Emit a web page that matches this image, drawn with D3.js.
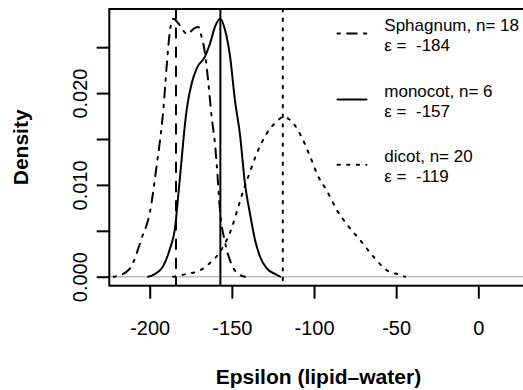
<!DOCTYPE html>
<html><head><meta charset="utf-8">
<script src="https://cdn.jsdelivr.net/npm/d3@7"></script>
<style>
html,body{margin:0;padding:0;background:#fff;}
svg{display:block;font-family:"Liberation Sans",Arial,Helvetica,sans-serif;}
</style></head>
<body>
<svg id="chart" width="523" height="390"></svg>
<script>
// ---- data ----
const seriesNames = ["Sphagnum", "monocot", "dicot"];
const seriesN = [18, 6, 20];
const seriesEps = [-184, -157, -119];
const seriesDash = ["dotdash", "solid", "dotted"];

const sphagnumX = [-222, -219.1, -212.0, -204.9, -199.8, -195.7, -193.7, -191.7, -189.7, -187.6, -185.6, -182.6, -179.5, -177.1, -174.5, -172.4, -170.4, -168.4, -166.3, -164.3, -162.3, -160.3, -159.2, -157.2, -154.2, -150.1, -145.0, -142.0];
const sphagnumY = [0, 0.0001, 0.0009, 0.0042, 0.0071, 0.0122, 0.0149, 0.0182, 0.0229, 0.0269, 0.0281, 0.0276, 0.0268, 0.0264, 0.0268, 0.0271, 0.0272, 0.0261, 0.0243, 0.0211, 0.0174, 0.0145, 0.0122, 0.0071, 0.0038, 0.0013, 0.0002, 0];

const monocotX = [-201, -197.8, -191.7, -187.6, -184.6, -182.6, -180.5, -179.5, -177.5, -174.4, -171.4, -166.3, -163.3, -160.3, -157.2, -154.2, -151.1, -148.1, -145.0, -142.0, -139.0, -135.9, -132.9, -128.8, -123.7, -120.6];
const monocotY = [0, 0.0002, 0.0012, 0.0031, 0.0053, 0.0089, 0.0129, 0.0149, 0.0182, 0.0211, 0.0227, 0.0240, 0.0254, 0.0272, 0.0281, 0.0269, 0.0240, 0.0192, 0.0154, 0.0101, 0.0069, 0.0040, 0.0022, 0.0009, 0.0003, 0];

const dicotX = [-185.8, -177.5, -169.4, -163.3, -157.2, -150.1, -146.1, -143.0, -140.0, -134.9, -128.8, -122.7, -118.7, -112.6, -107.5, -102.4, -97.4, -92.3, -86.2, -79.1, -72.0, -63.9, -55.7, -47.5, -44.6];
const dicotY = [0, 0.0003, 0.0007, 0.0015, 0.0027, 0.0053, 0.0076, 0.0094, 0.0109, 0.0134, 0.0156, 0.0169, 0.0174, 0.0167, 0.0152, 0.0131, 0.0109, 0.0094, 0.0073, 0.0055, 0.0040, 0.0022, 0.0007, 0.0002, 0];

const xTicks = [-200, -150, -100, -50, 0];
const yTicks = [0, 0.005, 0.010, 0.015, 0.020, 0.025];
const yTickLabels = ["0.000", "", "0.010", "", "0.020", ""];
const xTitle = "Epsilon (lipid\u2013water)";
const yTitle = "Density";

// ---- layout ----
const svg = d3.select("#chart");
const plot = {left: 109.3, top: 9, right: 527.6, bottom: 285.7};
const x = d3.scaleLinear().domain([-224.6, 30]).range([plot.left, plot.right]);
const y = d3.scaleLinear().domain([-0.00098, 0.02916]).range([plot.bottom, plot.top]);

const s = 2.4;
const dashes = {
  solid: null,
  dashed: [4*s, 4*s].join(" "),
  dotted: [1*s, 3*s].join(" "),
  dotdash: [1*s, 3*s, 4*s, 3*s].join(" ")
};
const lw = 2;

svg.append("clipPath").attr("id","clip").append("rect")
  .attr("x", plot.left).attr("y", plot.top)
  .attr("width", plot.right - plot.left).attr("height", plot.bottom - plot.top);

const g = svg.append("g").attr("clip-path","url(#clip)");

// grey zero line
g.append("line").attr("x1", plot.left).attr("x2", plot.right)
  .attr("y1", y(0)).attr("y2", y(0))
  .attr("stroke", "#bebebe").attr("stroke-width", 1.5);

const seriesX = [sphagnumX, monocotX, dicotX];
const seriesY = [sphagnumY, monocotY, dicotY];
const line = d3.line().x(d => x(d[0])).y(d => y(d[1])).curve(d3.curveMonotoneX);

seriesNames.forEach((name, i) => {
  const pts = seriesX[i].map((v, j) => [v, seriesY[i][j]]);
  g.append("path").attr("d", line(pts))
    .attr("fill", "none").attr("stroke", "#000").attr("stroke-width", lw)
    .attr("stroke-linecap", "round").attr("stroke-linejoin", "round")
    .attr("stroke-dasharray", dashes[seriesDash[i]]);
});

// vertical lines at means
const vDash = ["dashed", "solid", "dotted"];
seriesEps.forEach((e, i) => {
  g.append("line").attr("x1", x(e)).attr("x2", x(e))
    .attr("y1", plot.top).attr("y2", plot.bottom)
    .attr("stroke", "#000").attr("stroke-width", lw)
    .attr("stroke-linecap", "round")
    .attr("stroke-dasharray", dashes[vDash[i]]);
});

// box
svg.append("rect").attr("x", plot.left).attr("y", plot.top)
  .attr("width", plot.right - plot.left).attr("height", plot.bottom - plot.top)
  .attr("fill", "none").attr("stroke", "#000").attr("stroke-width", lw);

// x axis
const xAxis = d3.axisBottom(x).tickValues(xTicks).tickSize(13).tickPadding(22)
  .tickFormat(d3.format("d"));
const xa = svg.append("g").attr("transform", `translate(0,${plot.bottom})`).call(xAxis);
xa.select(".domain").remove();
xa.selectAll(".tick line").attr("stroke-width", lw);
xa.selectAll(".tick text").attr("font-size", 20).attr("font-family", "Liberation Sans, Arial, sans-serif")
  .attr("fill", "#000").text(d => d3.format("d")(d).replace("\u2212", "-"));

// y axis
const yAxis = d3.axisLeft(y).tickValues(yTicks).tickSize(12.6).tickFormat((d, i) => yTickLabels[i]);
const ya = svg.append("g").attr("transform", `translate(${plot.left},0)`).call(yAxis);
ya.select(".domain").remove();
ya.selectAll(".tick line").attr("stroke-width", lw);
ya.selectAll(".tick text")
  .attr("font-size", 20).attr("font-family", "Liberation Sans, Arial, sans-serif").attr("fill", "#000")
  .attr("x", null).attr("dy", null)
  .attr("text-anchor", "middle")
  .attr("transform", "translate(-30,0) rotate(-90)")
  .attr("y", 0).attr("dy", "0.36em");

// titles
svg.append("text").attr("x", (plot.left + plot.right) / 2).attr("y", 383.5)
  .attr("text-anchor", "middle").attr("font-weight", "bold").attr("font-size", 21)
  .text(xTitle);
svg.append("text").attr("transform", `translate(27.7,${(plot.top + plot.bottom) / 2}) rotate(-90)`)
  .attr("text-anchor", "middle").attr("font-weight", "bold").attr("font-size", 21)
  .text(yTitle);

// legend
const legBase = [30.7, 96.7, 162];
seriesNames.forEach((name, i) => {
  const b = legBase[i];
  svg.append("line").attr("x1", 337.5).attr("x2", 366.5)
    .attr("y1", b + 2.8).attr("y2", b + 2.8)
    .attr("stroke", "#000").attr("stroke-width", lw).attr("stroke-linecap", "round")
    .attr("stroke-dasharray", dashes[seriesDash[i]]);
  const t = svg.append("text").attr("x", 384.3).attr("font-size", 17).attr("fill", "#000")
    .style("white-space", "pre");
  t.append("tspan").attr("x", 384.3).attr("y", b).text(`${name}, n= ${seriesN[i]}`);
  t.append("tspan").attr("x", 384.3).attr("y", b + 20).text(`\u03b5 =  ${seriesEps[i]}`);
});
</script>
</body></html>
